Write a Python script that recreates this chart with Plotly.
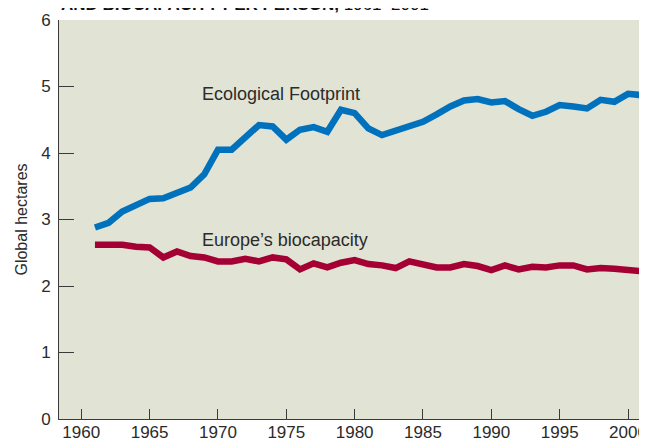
import plotly.graph_objects as go

# --- Data ---
years = list(range(1961, 2002))

footprint = [2.88, 2.95, 3.12, 3.21, 3.31, 3.32, 3.40, 3.48, 3.68, 4.05,
             4.05, 4.25, 4.42, 4.40, 4.20, 4.35, 4.39, 4.32, 4.65, 4.60,
             4.37, 4.27, 4.33, 4.39, 4.47, 4.58, 4.70, 4.79, 4.81, 4.76,
             4.78, 4.66, 4.56, 4.62, 4.72, 4.70, 4.67, 4.80, 4.77, 4.89,
             4.87]

biocapacity = [2.62, 2.62, 2.62, 2.59, 2.58, 2.43, 2.52, 2.45, 2.43, 2.37,
               2.37, 2.41, 2.37, 2.43, 2.40, 2.25, 2.34, 2.28, 2.35, 2.39,
               2.33, 2.31, 2.27, 2.37, 2.32, 2.28, 2.28, 2.33, 2.30, 2.24,
               2.31, 2.25, 2.29, 2.28, 2.31, 2.31, 2.25, 2.27, 2.26, 2.25,
               2.22]

x_ticks = [1960, 1965, 1970, 1975, 1980, 1985, 1990, 1995, 2000]
y_ticks = [0, 1, 2, 3, 4, 5, 6]

FONT = "Arial, Liberation Sans, Helvetica, sans-serif"
TEXT = "#2b2b2b"
AXIS = "#3a3a3a"

fig = go.Figure()

fig.add_trace(go.Scatter(
    x=years, y=biocapacity, mode="lines",
    line=dict(color="#a50034", width=6.5),
    name="Europe's biocapacity", hoverinfo="skip"
))
fig.add_trace(go.Scatter(
    x=years, y=footprint, mode="lines",
    line=dict(color="#0071bc", width=6.5),
    name="Ecological Footprint", hoverinfo="skip"
))

# series labels
fig.add_annotation(x=1968.68, y=4.89, text="Ecological Footprint",
                   xanchor="left", yanchor="middle", showarrow=False,
                   font=dict(family=FONT, size=18, color=TEXT))
fig.add_annotation(x=1968.68, y=2.69, text="Europe’s biocapacity",
                   xanchor="left", yanchor="middle", showarrow=False,
                   font=dict(family=FONT, size=18, color=TEXT))

# title, cut off by the top of the page as in the source
fig.add_annotation(xref="paper", yref="paper", x=0.0, y=1, xanchor="left",
                   yanchor="bottom", yshift=4, showarrow=False,
                   text="<b>AND BIOCAPACITY PER PERSON,</b> 1961–2001",
                   font=dict(family=FONT, size=17, color="#111"))

fig.update_xaxes(
    range=[1958.37, 2000.95], tickvals=x_ticks,
    ticks="inside", ticklen=10, tickcolor=AXIS, tickwidth=1,
    showline=True, linecolor=AXIS, linewidth=1,
    showgrid=False, zeroline=False, automargin=False,
    tickfont=dict(family=FONT, size=17, color=TEXT),
    ticklabelstandoff=-2
)
fig.update_yaxes(
    range=[0, 6], tickvals=y_ticks,
    ticks="inside", ticklen=15, tickcolor=AXIS, tickwidth=1,
    showline=True, linecolor=AXIS, linewidth=1,
    showgrid=False, zeroline=False, automargin=False,
    tickfont=dict(family=FONT, size=17, color=TEXT),
    ticklabelstandoff=4,
    title=dict(text="Global hectares", standoff=9,
               font=dict(family=FONT, size=16, color=TEXT))
)

# the page body adds an 8px offset, so margins are shifted to compensate
fig.update_layout(
    width=647, height=440,
    margin=dict(l=51, r=14, t=12, b=29),
    plot_bgcolor="#e1e3d4", paper_bgcolor="white",
    showlegend=False
)

fig.write_html("out.html")
